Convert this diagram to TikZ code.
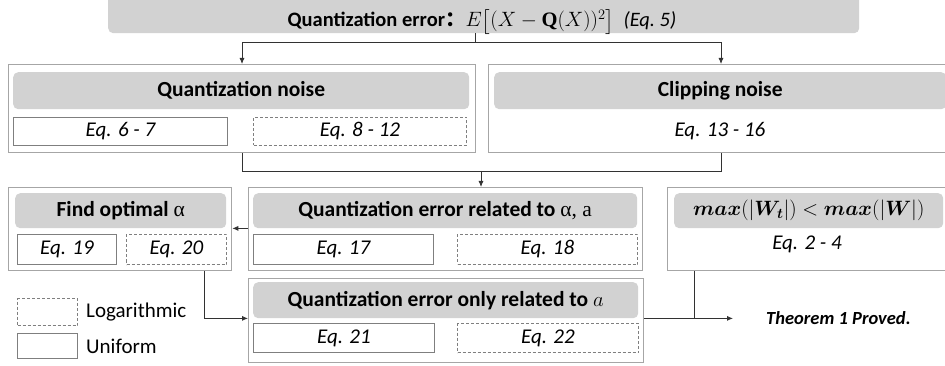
\documentclass[tikz,border=0pt]{standalone}
\usepackage{amsmath}
\usepackage{bm}
\usepackage{fontspec}
\setmainfont{Carlito}
\newfontfamily\serifm{Liberation Serif}
\newfontfamily\cjk{Noto Sans CJK SC}
\usetikzlibrary{arrows.meta}
\definecolor{gfill}{RGB}{210,210,210}
\definecolor{outline}{RGB}{166,166,166}
\definecolor{eqline}{RGB}{127,127,127}
\definecolor{conncol}{RGB}{50,50,50}
\begin{document}
\begin{tikzpicture}[x=1pt,y=-1pt,
  outer/.style={draw=outline,line width=1.3pt,fill=white,anchor=north west,inner sep=0pt},
  gbox/.style={fill=gfill,rounded corners=5pt,anchor=north west,inner sep=0pt},
  head/.style={inner sep=0pt,font=\fontsize{21.5}{25}\selectfont\bfseries},
  eqbox/.style={draw=eqline,line width=1pt,anchor=north west,inner sep=0pt},
  logbox/.style={eqbox,dashed,dash pattern=on 3pt off 2pt},
  eqtext/.style={inner sep=0pt,font=\fontsize{21}{25}\selectfont\itshape},
  legtext/.style={inner sep=0pt,anchor=west,font=\fontsize{21}{25}\selectfont},
  conn/.style={draw=conncol,line width=0.8pt},
  arr/.style={conn,-{Latex[length=6pt,width=5pt]}}]
\useasboundingbox (0,0) rectangle (945,366);
\begin{scope}
\clip (0,0) rectangle (945,366);
% top
\node[gbox,minimum width=751pt,minimum height=40pt] (top) at (108,-7) {};
\node[inner sep=0pt,anchor=base,font=\fontsize{20.5}{24}\selectfont] (toptxt) at (482,27)
  {\textbf{Quantization error}{\cjk\bfseries ：}$E\bigl[(X-\text{\serifm\bfseries Q}(X))^{2}\bigr]$\ \ {\itshape (Eq.~5)}};
% left outer
\node[outer,minimum width=467pt,minimum height=88pt] (Lout) at (8,64) {};
\node[gbox,minimum width=456pt,minimum height=37pt] (Lg) at (13,72) {};
\node[head] (Lgt) at (Lg.center) {Quantization noise};
\node[eqbox,minimum width=214pt,minimum height=28pt] (e67) at (13,117) {};
\node[eqtext] at (e67.center) {Eq. 6 - 7};
\node[logbox,minimum width=213pt,minimum height=28pt] (e812) at (253,117) {};
\node[eqtext] at (e812.center) {Eq. 8 - 12};
% right outer
\node[outer,minimum width=462pt,minimum height=88pt] (Rout) at (488,64) {};
\node[gbox,minimum width=452pt,minimum height=37pt] (Rg) at (494,72) {};
\node[head] (Rgt) at (Rg.center) {Clipping noise};
\node[eqtext] (e1316) at (720,131) {Eq. 13 - 16};
% row 2: find optimal
\node[outer,minimum width=223pt,minimum height=83pt] (Fout) at (8,187) {};
\node[gbox,minimum width=211pt,minimum height=35pt] (Fg) at (15,193) {};
\node[head] (Fgt) at (Fg.center) {Find optimal {\serifm\mdseries α}};
\node[eqbox,minimum width=99pt,minimum height=30pt] (e19) at (17,234) {};
\node[eqtext] at (e19.center) {Eq. 19};
\node[logbox,minimum width=100pt,minimum height=30pt] (e20) at (126,234) {};
\node[eqtext] at (e20.center) {Eq. 20};
% row 2: middle
\node[outer,minimum width=394pt,minimum height=83pt] (Mout) at (248,187) {};
\node[gbox,minimum width=384pt,minimum height=35pt] (Mg) at (253,193) {};
\node[head] (Mgt) at (Mg.center) {Quantization error related to {\serifm\mdseries α, a}};
\node[eqbox,minimum width=180pt,minimum height=30pt] (e17) at (253,234) {};
\node[eqtext] at (e17.center) {Eq. 17};
\node[logbox,minimum width=180pt,minimum height=30pt] (e18) at (457,234) {};
\node[eqtext] at (e18.center) {Eq. 18};
% row 2: right
\node[outer,minimum width=281pt,minimum height=83pt] (Xout) at (667,187) {};
\node[gbox,minimum width=269pt,minimum height=35pt] (Xg) at (674,193) {};
\node[inner sep=0pt,font=\fontsize{20}{24}\selectfont] (Xgt) at (Xg.center) {$\bm{max}(|\bm{W_t}|)<\bm{max}(|\bm{W}|)$};
\node[eqtext] (e24) at (807,244) {Eq. 2 - 4};
% row 3
\node[outer,minimum width=395pt,minimum height=84pt] (Oout) at (248,278) {};
\node[gbox,minimum width=385pt,minimum height=36pt] (Og) at (253,282) {};
\node[head] (Ogt) at (Og.center) {Quantization error only related to $a$};
\node[eqbox,minimum width=181pt,minimum height=29pt] (e21) at (253,323) {};
\node[eqtext] at (e21.center) {Eq. 21};
\node[logbox,minimum width=181pt,minimum height=29pt] (e22) at (457,323) {};
\node[eqtext] at (e22.center) {Eq. 22};
% theorem
\node[inner sep=0pt,anchor=west,font=\fontsize{18.5}{22}\selectfont\bfseries\itshape] (thm) at (766,318) {Theorem 1 Proved.};
% legend
\node[logbox,minimum width=60pt,minimum height=27pt] (legL) at (17,298) {};
\node[legtext] (legLt) at (86,312) {Logarithmic};
\node[eqbox,minimum width=60pt,minimum height=25pt] (legU) at (17,333) {};
\node[legtext] (legUt) at (86,346) {Uniform};
% connectors
\coordinate (tstem) at (475,0 |- top.south);
\coordinate (tsplit) at (475,42);
\coordinate (lin) at (242,0 |- Lout.north);
\coordinate (rin) at (721,0 |- Rout.north);
\draw[conn] (tstem) -- (tsplit);
\draw[arr] (tsplit) -| (lin);
\draw[arr] (tsplit) -| (rin);
\coordinate (lout) at (242,0 |- Lout.south);
\coordinate (rout) at (721,0 |- Rout.south);
\coordinate (join) at (481,171);
\draw[conn] (lout) |- (join);
\draw[conn] (rout) |- (join);
\draw[arr] (join) -- (join |- Mout.north);
\draw[arr] (Mout.west |- Mg.south) -- (Fout.east |- Mg.south);
\coordinate (fout) at (204,0 |- Fout.south);
\draw[arr] (fout) |- (Oout.west |- Og.south);
\coordinate (thmarr) at (733,0 |- Og.south);
\draw[arr] (Oout.east |- Og.south) -- (thmarr);
\coordinate (xout) at (694,0 |- Xout.south);
\draw[conn] (xout) -- (xout |- Og.south);
\end{scope}
\end{tikzpicture}
\end{document}
